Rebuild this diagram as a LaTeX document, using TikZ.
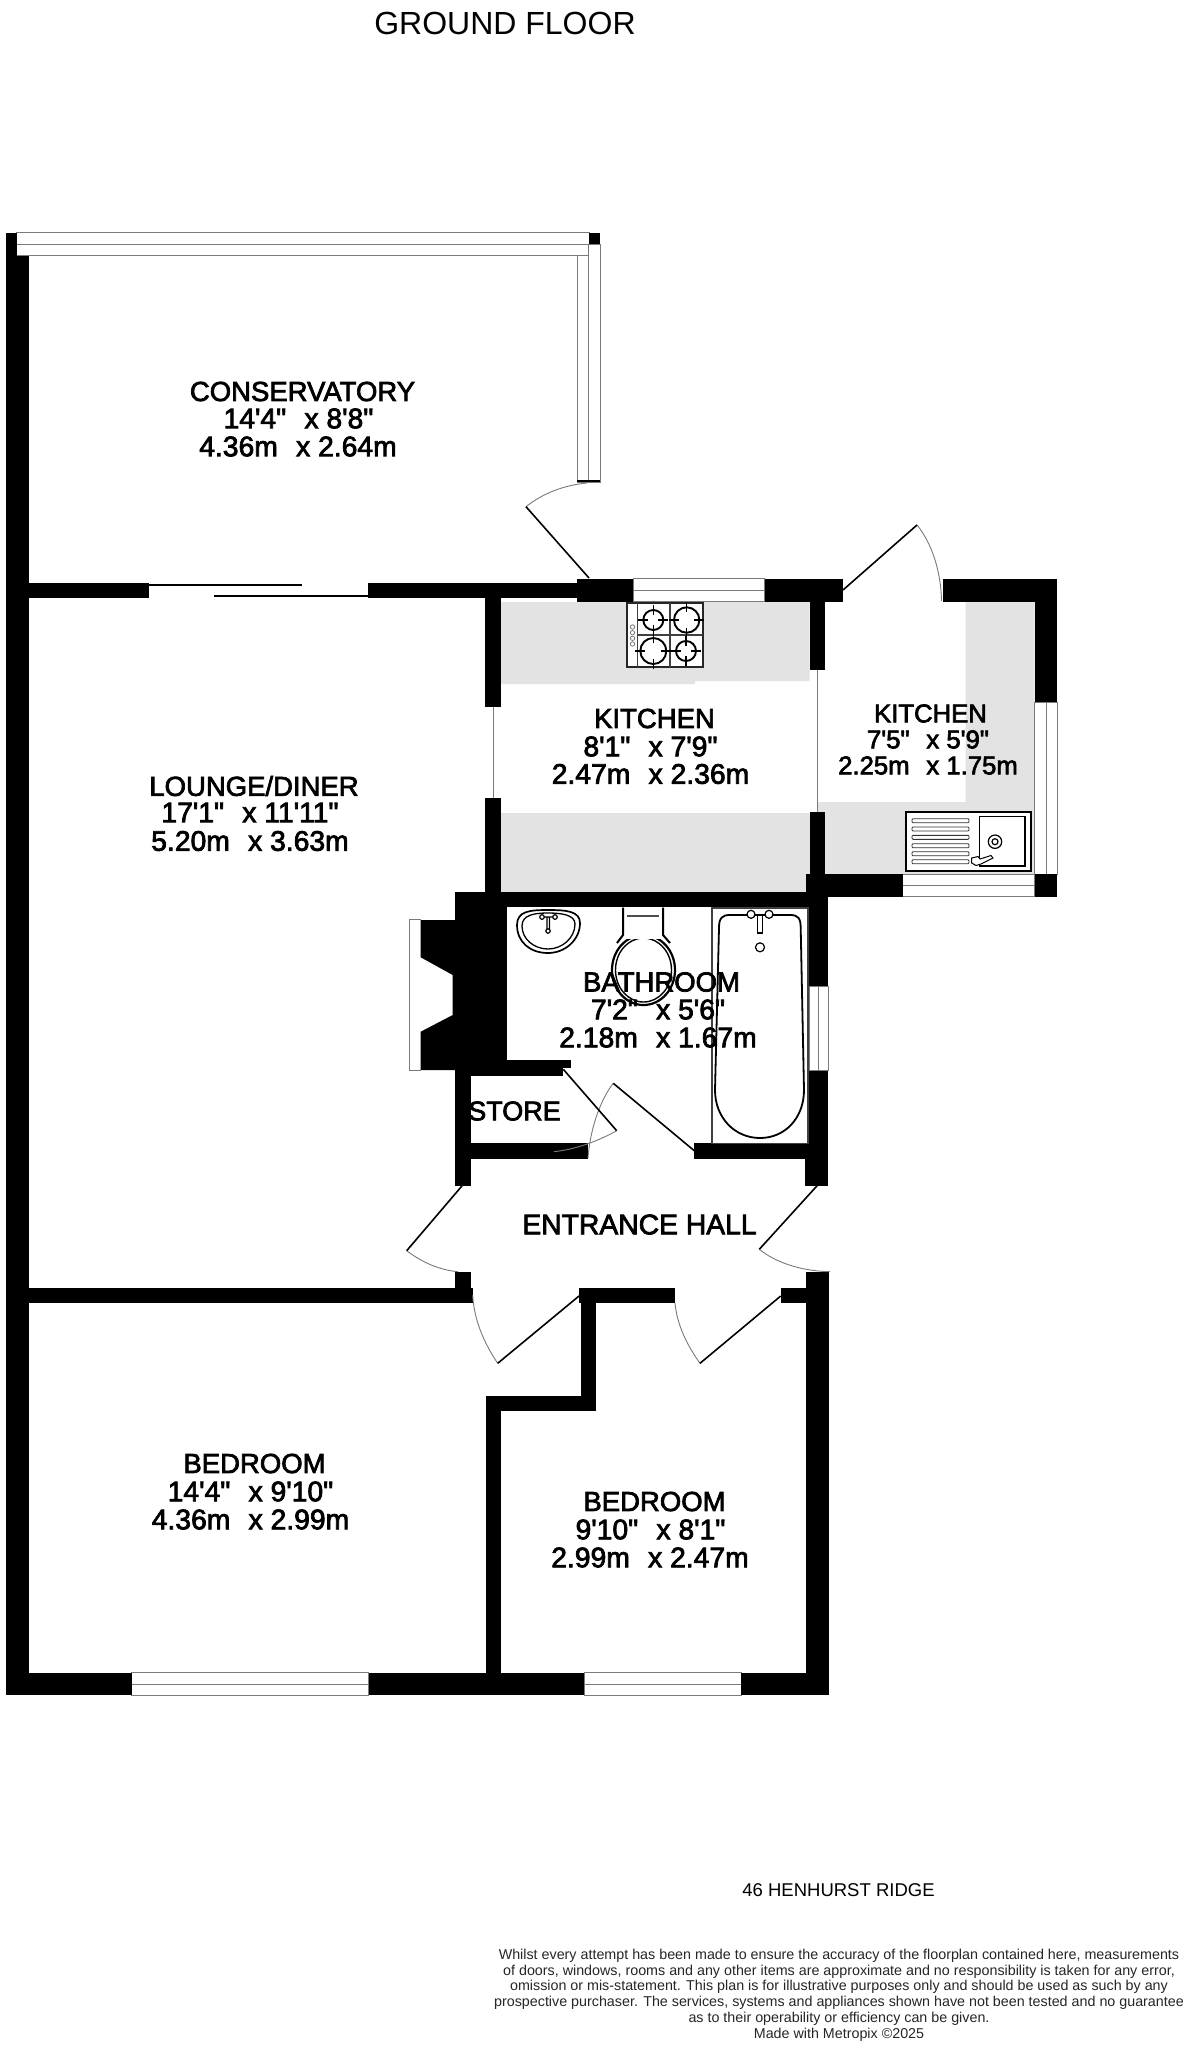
\documentclass[tikz,border=0pt]{standalone}
\usepackage{fontspec}
\newfontfamily\plainf{Liberation Sans}
\newfontfamily\roomf[FakeBold=2.6]{Liberation Sans}
\definecolor{unit}{HTML}{E3E3E3}
\definecolor{edge}{HTML}{7A7A7A}
\newcommand{\wallbox}[4]{\fill[black] (#1,#2) rectangle (#3,#4);}
\newcommand{\winbox}[4]{\filldraw[fill=white,draw=edge,line width=1pt] (#1,#2) rectangle (#3,#4);}
\newcommand{\burner}[3]{\draw[fix,line width=1.9pt] (#1,#2) circle (#3);
 \draw[fix] (#1-#3-5,#2) -- (#1-#3+5,#2) (#1+#3-5,#2) -- (#1+#3+5,#2) (#1,#2-#3-5) -- (#1,#2-#3+5) (#1,#2+#3-5) -- (#1,#2+#3+5);}
\newcommand{\gap}{\ \ \hspace{2.5pt}}
\tikzset{
 fix/.style={draw=black,line width=1.2pt},
 leaf/.style={draw=black,line width=1.6pt},
 swing/.style={draw=edge,line width=0.9pt},
 room/.style={font=\roomf\fontsize{27.5}{28}\selectfont,inner sep=0pt,anchor=center},
 roomnum/.style={font=\roomf\fontsize{28.3}{29}\selectfont,inner sep=0pt,anchor=center},
 roomsm/.style={font=\roomf\fontsize{25.7}{26}\selectfont,inner sep=0pt,anchor=center},
 plaintext/.style={font=\plainf,inner sep=0pt,anchor=center}
}
\begin{document}
\begin{tikzpicture}[x=1pt,y=-1pt]
\useasboundingbox (0,0) rectangle (1185,2048);
\fill[white] (0,0) rectangle (1185,2048);
% worktop zones
\fill[unit] (501,602) -- (809.5,602) -- (809.5,681) -- (695,681) -- (695,684) -- (501,684) -- cycle;
\fill[unit] (501,813) rectangle (809.5,892);
\fill[unit] (965.6,602) -- (1034.5,602) -- (1034.5,874) -- (817,874) -- (817,802) -- (965.6,802) -- cycle;
% windows
\winbox{16.6}{232.5}{589}{244}
\winbox{16.6}{244}{589}{255.5}
\winbox{577}{255.5}{588.5}{482}
\winbox{588.5}{244}{600}{482}
\winbox{633.4}{578.7}{764.7}{590}
\winbox{633.4}{590}{764.7}{601.7}
\winbox{902.5}{874}{1034.5}{885.5}
\winbox{902.5}{885.5}{1034.5}{896.7}
\winbox{1034.5}{702}{1046}{874}
\winbox{1046}{702}{1057}{874}
\winbox{809}{986}{818}{1070.7}
\winbox{818}{986}{828}{1070.7}
\winbox{131.8}{1672.5}{368.7}{1684}
\winbox{131.8}{1684}{368.7}{1695}
\winbox{584}{1672.5}{741}{1684}
\winbox{584}{1684}{741}{1695}
% thin partition lines
\draw[edge,line width=1pt] (493,706) -- (493,798);
\draw[edge,line width=1pt] (817,670) -- (817,812);
% walls
\wallbox{5.5}{232.5}{16.6}{260}
\wallbox{5.5}{255.5}{28.5}{1695}
\wallbox{589}{232.5}{600}{244}
\wallbox{577}{479.5}{600}{482}
\wallbox{28}{582.7}{149}{598.3}
\wallbox{368}{582.7}{578}{598.3}
\wallbox{577}{578.7}{633.4}{601.7}
\wallbox{764.7}{578.7}{843}{601.7}
\wallbox{942.6}{578.7}{1057}{601.7}
\wallbox{1034.5}{578.7}{1057}{702}
\wallbox{485.4}{590}{500.6}{706.7}
\wallbox{485.4}{798}{500.6}{892}
\wallbox{809.5}{590}{824.8}{670}
\wallbox{809.5}{811.7}{824.8}{892}
\wallbox{805.6}{874}{902.5}{896.7}
\wallbox{1034.5}{874}{1057}{896.7}
\wallbox{455}{892}{828}{907.3}
\wallbox{809}{892}{828}{986}
\wallbox{809}{1070.7}{828}{1185.5}
\wallbox{805}{1143.3}{828}{1185.5}
\wallbox{455}{892}{471}{1185.5}
\wallbox{471}{907}{506.7}{1060}
\wallbox{471}{1060}{570.7}{1068}
\wallbox{471}{1068}{563}{1075.7}
\wallbox{471}{1143.3}{588}{1159}
\wallbox{694}{1143.3}{809}{1159}
% chimney breast
\draw[edge,line width=0.8pt] (421,919.5) -- (409,919.5) -- (409,1070) -- (421,1070);
\fill[black] (420.7,920) -- (455,920) -- (455,1070) -- (420.7,1070) -- (420.7,1031.7) -- (452.7,1015) -- (452.7,975) -- (420.7,957.3) -- cycle;
% hall and bedroom walls
\wallbox{455}{1271.7}{471}{1290}
\wallbox{28}{1288.3}{472.7}{1303.3}
\wallbox{579}{1288.3}{675}{1303.3}
\wallbox{581}{1288.3}{596}{1410.7}
\wallbox{485.7}{1395.7}{596}{1410.7}
\wallbox{485.7}{1395.7}{500.7}{1695}
\wallbox{780.7}{1288.3}{829}{1303.3}
\wallbox{805.7}{1271.7}{829}{1695}
\wallbox{5.5}{1672.5}{131.8}{1695}
\wallbox{368.7}{1672.5}{584}{1695}
\wallbox{741}{1672.5}{829}{1695}
% sliding doors
\draw[leaf] (149,584.7) -- (302,584.7);
\draw[leaf] (214,595.7) -- (368,595.7);
% hinged doors
\draw[swing] (587,483) .. controls (565,485) and (543,493) .. (526,506.7);
\draw[leaf] (526,506.7) -- (589,578);
\draw[swing] (917,525) .. controls (931,542) and (941,570) .. (941.5,601);
\draw[leaf] (843,590) -- (917,525);
\draw[swing] (406.7,1250.7) .. controls (423,1263) and (440,1270) .. (458,1271.7);
\draw[leaf] (462.3,1185.5) -- (406.7,1250.7);
\draw[swing] (759.3,1249.3) .. controls (775,1262) and (800,1271) .. (830,1271.7);
\draw[leaf] (817.3,1185.5) -- (759.3,1249.3);
\draw[swing] (472.7,1295) .. controls (474,1320) and (484,1343) .. (497.7,1363.3);
\draw[leaf] (497.7,1363.3) -- (579,1296);
\draw[swing] (675,1303) .. controls (677,1325) and (687,1345) .. (700,1363.3);
\draw[leaf] (700,1363.3) -- (780.7,1296);
\draw[swing] (613.3,1083.3) .. controls (600,1100) and (590,1130) .. (588,1158);
\draw[leaf] (694.3,1150.7) -- (613.3,1083.3);
\draw[swing] (616.7,1130.7) .. controls (600,1140) and (578,1149) .. (554,1151.7);
\draw[leaf] (563.3,1069.3) -- (616.7,1130.7);
% hob
\filldraw[fill=white,draw=black!85,line width=2pt] (627.3,603.3) rectangle (702.7,666.7);
\draw[fix,draw=black!75] (637.3,603.3) -- (637.3,666.7) (670,603.3) -- (670,666.7) (637.3,635) -- (702.7,635);
\burner{653.3}{620}{10}
\burner{686.7}{620}{12.7}
\burner{653.3}{651}{13}
\burner{686}{651}{10}
\foreach \ky in {627,632.7,638.3,644}{\draw[edge,line width=0.8pt] (632.5,\ky) circle (2.2);}
% sink
\filldraw[fill=white,draw=black,line width=1.7pt] (905.7,811.7) rectangle (1031,871);
\draw[fix] (979.3,816.7) rectangle (1025,866);
\foreach \ry in {820.7,829,837.3,845.7,853.7,861.7}{\draw[draw=black!80,line width=0.9pt,rounded corners=1pt] (912,\ry-2) rectangle (969,\ry+2);}
\draw[fix] (995,841.7) circle (6.7);
\draw[fix] (995,841.7) circle (3);
\filldraw[fill=white,draw=black,line width=1pt] (971.7,858) -- (978,856.5) -- (980,859) -- (991,855.5) -- (993,858) -- (981,864) -- (976,865.5) -- (971.7,863) -- cycle;
% basin
\draw[fix,line width=1.7pt] (517,925) .. controls (517,911) and (530,910) .. (548,910) .. controls (566,910) and (580,911) .. (580,923) .. controls (580,940) and (565,953) .. (548,953) .. controls (530,953) and (517,942) .. (517,925) -- cycle;
\draw[fix,line width=1.3pt] (522,926) .. controls (522,915) and (534,913) .. (548,913) .. controls (562,913) and (575,915) .. (575,924) .. controls (575,938) and (562,949) .. (548,949) .. controls (534,949) and (522,939) .. (522,926) -- cycle;
\draw[fix] (542,917) circle (2.3) (555,917) circle (2.3) (544.5,917) -- (552.5,917) (547,917) -- (547,929) (549.5,917) -- (549.5,929);
\draw[fix] (548,931) circle (2.2);
% WC
\draw[fix,line width=2.2pt] (643.5,970) ellipse (31.5 and 35);
\draw[fix,line width=1.4pt] (643.5,970) ellipse (28 and 32);
\filldraw[fill=white,draw=white] (624,907.5) rectangle (662,938);
\draw[fix,line width=2pt] (623,907.5) -- (623,935) -- (617,943) (663,907.5) -- (663,935) -- (670,943);
\draw[draw=black!70,line width=1.1pt] (627,916) -- (659,916);
% bath
\draw[draw=black!75,line width=1.2pt] (712,908) rectangle (808,1143.3);
\draw[fix,line width=1.8pt] (719,928) .. controls (719,918) and (722,915) .. (730,915) -- (790,915) .. controls (798,915) and (800.7,918) .. (800.7,928) -- (804,1090) .. controls (804,1118) and (785,1138) .. (760,1138) .. controls (735,1138) and (715,1118) .. (715,1090) -- cycle;
\filldraw[fill=white,draw=black,line width=1.2pt] (751,914.3) circle (4) (769,914.3) circle (4);
\filldraw[fill=white,draw=black,line width=1.2pt] (757.5,915) rectangle (762.5,933);
\draw[fix] (760,947.3) circle (4.5);
% labels
\node[plaintext,font=\plainf\fontsize{32}{34}\selectfont] (title) at (505,23) {GROUND FLOOR};
\node[room] (c1) at (302.5,391.5) {CONSERVATORY};
\node[roomnum] (c2) at (298.5,418.5) {14'4"\gap x 8'8"};
\node[roomnum] (c3) at (298,446.5) {4.36m\gap x 2.64m};
\node[room] (k1) at (654.5,718.5) {KITCHEN};
\node[roomnum] (k2) at (650.5,746.5) {8'1"\gap x 7'9"};
\node[roomnum] (k3) at (650.5,774) {2.47m\gap x 2.36m};
\node[roomsm] (u1) at (930.5,713.5) {KITCHEN};
\node[roomsm] (u2) at (928,739.5) {7'5"\gap x 5'9"};
\node[roomsm] (u3) at (928,765.5) {2.25m\gap x 1.75m};
\node[room] (l1) at (254,786) {LOUNGE/DINER};
\node[roomnum] (l2) at (250,812.5) {17'1"\gap x 11'11"};
\node[roomnum] (l3) at (250,841) {5.20m\gap x 3.63m};
\node[room] (b1) at (661.5,982) {BATHROOM};
\node[roomnum] (b2) at (658,1009.5) {7'2"\gap x 5'6"};
\node[roomnum] (b3) at (658,1037.5) {2.18m\gap x 1.67m};
\node[font=\roomf\fontsize{27}{28}\selectfont,inner sep=0pt] (st) at (514.5,1111) {STORE};
\node[roomnum] (eh) at (639.5,1224.5) {ENTRANCE HALL};
\node[room] (r1) at (254.5,1463.5) {BEDROOM};
\node[roomnum] (r2) at (250.5,1491.5) {14'4"\gap x 9'10"};
\node[roomnum] (r3) at (250.5,1519.5) {4.36m\gap x 2.99m};
\node[room] (s1) at (654.5,1501.5) {BEDROOM};
\node[roomnum] (s2) at (650.5,1529.5) {9'10"\gap x 8'1"};
\node[roomnum] (s3) at (650,1557.5) {2.99m\gap x 2.47m};
\node[plaintext,font=\plainf\fontsize{18.5}{20}\selectfont] (addr) at (838.5,1890) {46 HENHURST RIDGE};
\node[plaintext,align=center,font=\plainf\fontsize{14.3}{15.8}\selectfont,color=black!85] (disc) at (839,1995) {Whilst every attempt has been made to ensure the accuracy of the floorplan contained here, measurements\\of doors, windows, rooms and any other items are approximate and no responsibility is taken for any error,\\omission or mis-statement. This plan is for illustrative purposes only and should be used as such by any\\prospective purchaser. The services, systems and appliances shown have not been tested and no guarantee\\as to their operability or efficiency can be given.\\Made with Metropix \textcopyright 2025};
\end{tikzpicture}
\end{document}
